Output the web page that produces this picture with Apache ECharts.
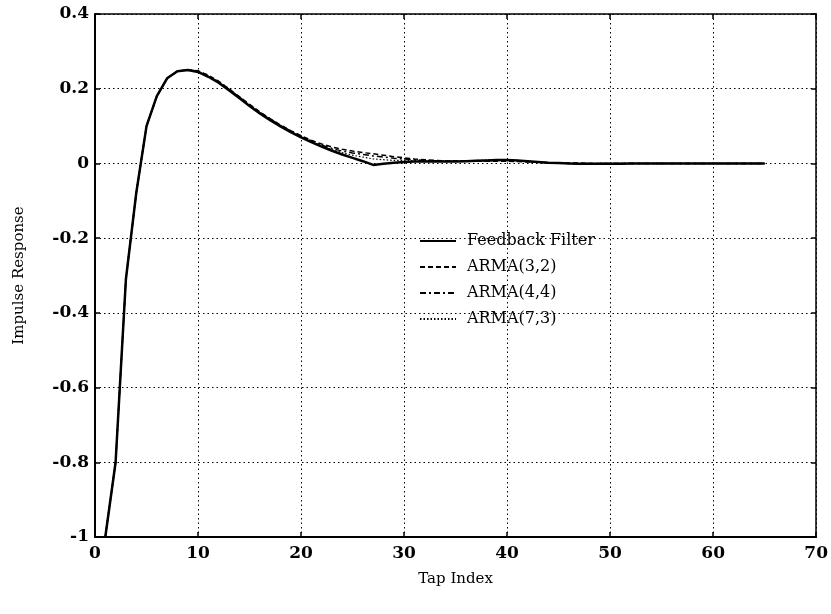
<!DOCTYPE html>
<html>
<head>
<meta charset="utf-8">
<script src="https://cdn.jsdelivr.net/npm/echarts@6/dist/echarts.min.js"></script>
<style>
html,body{margin:0;padding:0;background:#fff;}
#chart{width:831px;height:614px;}
</style>
</head>
<body>
<div id="chart"></div>
<script>
var taps = [];
for (var t = 1; t <= 65; t++) taps.push(t);

var feedbackFilter = [
 -1.0, -0.8, -0.31, -0.08, 0.10, 0.18, 0.228, 0.247, 0.250, 0.245,
 0.232, 0.216, 0.196, 0.175, 0.154, 0.134, 0.116, 0.099, 0.084, 0.070,
 0.057, 0.045, 0.034, 0.024, 0.015, 0.006, -0.004, -0.001, 0.002, 0.004,
 0.005, 0.005, 0.005, 0.005, 0.005, 0.006, 0.007, 0.008, 0.009, 0.009,
 0.008, 0.006, 0.004, 0.002, 0.001, 0.000, -0.001, -0.001, -0.001, -0.001,
 -0.001, 0.000, 0.000, 0.000, 0.000, 0.000, 0.000, 0.000, 0.000, 0.000,
 0.000, 0.000, 0.000, 0.000, 0.000
];
var arma32 = [
 -1.0, -0.8, -0.31, -0.08, 0.10, 0.18, 0.228, 0.247, 0.251, 0.248,
 0.236, 0.220, 0.200, 0.179, 0.158, 0.138, 0.120, 0.103, 0.088, 0.074,
 0.062, 0.052, 0.044, 0.038, 0.033, 0.029, 0.026, 0.022, 0.018, 0.015,
 0.012, 0.010, 0.008, 0.007, 0.007, 0.006, 0.006, 0.006, 0.006, 0.006,
 0.005, 0.004, 0.003, 0.002, 0.002, 0.001, 0.001, 0.000, 0.000, 0.000,
 0.000, 0.000, 0.000, 0.000, 0.000, 0.000, 0.000, 0.000, 0.000, 0.000,
 0.000, 0.000, 0.000, 0.000, 0.000
];
var arma44 = [
 -1.0, -0.8, -0.31, -0.08, 0.10, 0.18, 0.228, 0.247, 0.250, 0.247,
 0.235, 0.219, 0.199, 0.178, 0.157, 0.137, 0.119, 0.102, 0.087, 0.073,
 0.060, 0.049, 0.040, 0.033, 0.028, 0.024, 0.020, 0.017, 0.014, 0.012,
 0.010, 0.008, 0.007, 0.006, 0.006, 0.006, 0.007, 0.007, 0.008, 0.008,
 0.007, 0.005, 0.004, 0.002, 0.001, 0.000, 0.000, 0.000, 0.000, 0.000,
 0.000, 0.000, 0.000, 0.000, 0.000, 0.000, 0.000, 0.000, 0.000, 0.000,
 0.000, 0.000, 0.000, 0.000, 0.000
];
var arma73 = [
 -1.0, -0.8, -0.31, -0.08, 0.10, 0.18, 0.228, 0.247, 0.250, 0.246,
 0.234, 0.218, 0.198, 0.177, 0.156, 0.136, 0.118, 0.101, 0.086, 0.072,
 0.059, 0.047, 0.037, 0.029, 0.022, 0.017, 0.012, 0.010, 0.008, 0.008,
 0.007, 0.007, 0.006, 0.006, 0.006, 0.007, 0.008, 0.009, 0.010, 0.010,
 0.008, 0.006, 0.004, 0.002, 0.001, 0.000, -0.001, -0.001, 0.000, 0.000,
 0.000, 0.000, 0.000, 0.000, 0.000, 0.000, 0.000, 0.000, 0.000, 0.000,
 0.000, 0.000, 0.000, 0.000, 0.000
];
var xTicks = [0, 10, 20, 30, 40, 50, 60, 70];
var yTicks = [-1, -0.8, -0.6, -0.4, -0.2, 0, 0.2, 0.4];
var seriesNames = ['Feedback Filter', 'ARMA(3,2)', 'ARMA(4,4)', 'ARMA(7,3)'];

function pairs(vals) { return taps.map(function (t, i) { return [t, vals[i]]; }); }

var FONT = 'DejaVu Serif';
var chart = echarts.init(document.getElementById('chart'), null, {renderer: 'canvas'});

var gridLine = {show: true, lineStyle: {color: '#000', width: 1, type: [1.5, 3]}};
var hidden = {color: 'rgba(0,0,0,0)', borderWidth: 0, opacity: 0};
var option = {
  backgroundColor: '#fff',
  animation: false,
  color: ['#000', '#000', '#000', '#000'],
  grid: {left: 95, right: 11, top: 14, bottom: 77, containLabel: false},
  legend: {
    data: seriesNames,
    orient: 'vertical',
    left: 414,
    top: 228,
    itemWidth: 36,
    itemHeight: 10,
    itemGap: 10,
    backgroundColor: 'transparent',
    itemStyle: hidden,
    textStyle: {fontFamily: FONT, fontSize: 16, color: '#000', padding: [0, 0, 0, 6]}
  },
  xAxis: [{
    type: 'value', min: 0, max: 70, interval: 10, position: 'bottom',
    name: 'Tap Index', nameLocation: 'middle', nameGap: 35,
    nameTextStyle: {fontFamily: FONT, fontSize: 15, color: '#000'},
    axisLine: {show: true, onZero: false, lineStyle: {color: '#000', width: 2}},
    axisTick: {show: true, inside: true, length: 5, lineStyle: {color: '#000', width: 1.5}},
    axisLabel: {fontFamily: FONT, fontSize: 17, fontWeight: 'bold', color: '#000', margin: 8,
      formatter: function (v) { return xTicks.indexOf(v) >= 0 ? String(v) : ''; }},
    splitLine: gridLine
  }, {
    type: 'value', min: 0, max: 70, interval: 10, position: 'top',
    axisLine: {show: true, onZero: false, lineStyle: {color: '#000', width: 1.5}},
    axisTick: {show: true, inside: true, length: 5, lineStyle: {color: '#000', width: 1.5}},
    axisLabel: {show: false}, splitLine: {show: false}
  }],
  yAxis: [{
    type: 'value', min: -1, max: 0.4, interval: 0.2, position: 'left',
    name: 'Impulse Response', nameLocation: 'middle', nameGap: 68,
    nameTextStyle: {fontFamily: FONT, fontSize: 15, color: '#000'},
    axisLine: {show: true, onZero: false, lineStyle: {color: '#000', width: 2}},
    axisTick: {show: true, inside: true, length: 5, lineStyle: {color: '#000', width: 1.5}},
    axisLabel: {fontFamily: FONT, fontSize: 17, fontWeight: 'bold', color: '#000', margin: 6,
      formatter: function (v) { var r = Math.round(v * 10) / 10; return yTicks.indexOf(r) >= 0 ? String(r) : ''; }},
    splitLine: gridLine
  }, {
    type: 'value', min: -1, max: 0.4, interval: 0.2, position: 'right',
    axisLine: {show: true, onZero: false, lineStyle: {color: '#000', width: 1.5}},
    axisTick: {show: true, inside: true, length: 5, lineStyle: {color: '#000', width: 1.5}},
    axisLabel: {show: false}, splitLine: {show: false}
  }],
  series: [{
    name: seriesNames[1], type: 'line', data: pairs(arma32), symbol: 'none', z: 3,
    itemStyle: {color: '#000'},
    lineStyle: {color: '#000', width: 1.5, type: [5, 3]}
  }, {
    name: seriesNames[2], type: 'line', data: pairs(arma44), symbol: 'none', z: 3,
    itemStyle: {color: '#000'},
    lineStyle: {color: '#000', width: 1.5, type: [6, 3, 2, 3]}
  }, {
    name: seriesNames[3], type: 'line', data: pairs(arma73), symbol: 'none', z: 3,
    itemStyle: {color: '#000'},
    lineStyle: {color: '#000', width: 1.2, type: [1.5, 2]}
  }, {
    name: seriesNames[0], type: 'line', data: pairs(feedbackFilter), symbol: 'none', z: 4,
    itemStyle: {color: '#000'},
    lineStyle: {color: '#000', width: 2.5, type: 'solid'}
  }]
};
chart.setOption(option);
</script>
</body>
</html>
